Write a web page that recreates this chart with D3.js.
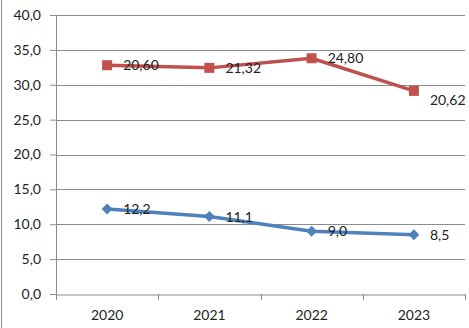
<!DOCTYPE html>
<html><head><meta charset="utf-8">
<script src="https://cdn.jsdelivr.net/npm/d3@7/dist/d3.min.js"></script>
<style>body{margin:0;background:#fff}svg{display:block}text{font-family:Lato,"Open Sans",sans-serif}</style>
</head><body>
<script>
const categories = ["2020","2021","2022","2023"];
const blueValues = [12.2, 11.1, 9.0, 8.5];
const redValues = [20.60, 21.32, 24.80, 20.62];
const blueLabels = ["12,2","11,1","9,0","8,5"];
const redLabels = ["20,60","21,32","24,80","20,62"];
const yTicks = [0,5,10,15,20,25,30,35,40];

const W=469,H=328;
const svg=d3.select("body").append("svg").attr("width",W).attr("height",H);
const x=d3.scaleBand().domain(categories).range([56,465]);
const y=d3.scaleLinear().domain([0,40]).range([294,15]);

// stacked values
const blueTop = blueValues;
const redTop = redValues.map((v,i)=>v+blueValues[i]);

svg.append("line").attr("x1",1.5).attr("x2",1.5).attr("y1",0).attr("y2",H).attr("stroke","#8c8c8c").attr("stroke-width",1);

const yAxis=d3.axisLeft(y).tickValues(yTicks).tickSize(6).tickFormat(d=>d.toFixed(1).replace(".",","));
const gy=svg.append("g").attr("transform","translate(56,0)").call(yAxis);
gy.select(".domain").attr("stroke","#8c8c8c");
gy.selectAll(".tick line").attr("stroke","#8c8c8c");
gy.selectAll(".tick text").attr("x",-15).attr("font-size",14).attr("fill","#222");
svg.append("g").selectAll("line").data(yTicks.filter(d=>d>0)).join("line")
  .attr("x1",56).attr("x2",465).attr("y1",d=>Math.round(y(d))+0.5).attr("y2",d=>Math.round(y(d))+0.5)
  .attr("stroke","#8c8c8c").attr("stroke-width",1);

const xAxis=d3.axisBottom(x).tickSize(0);
const gx=svg.append("g").attr("transform","translate(0,294.5)").call(xAxis);
gx.select(".domain").attr("stroke","#8c8c8c");
gx.selectAll(".tick text").attr("dy",0).attr("y",25).attr("font-size",14).attr("fill","#222");
svg.append("g").selectAll("line").data(categories.map(c=>x(c)).concat([x.range()[1]])).join("line")
  .attr("x1",d=>Math.round(d)+0.5).attr("x2",d=>Math.round(d)+0.5).attr("y1",294).attr("y2",300).attr("stroke","#8c8c8c");

const cx=c=>x(c)+x.bandwidth()/2;
const line=d3.line().x((d,i)=>cx(categories[i])).y(d=>y(d));

function series(vals,labels,color,isSquare,labelDy){
  svg.append("path").datum(vals).attr("d",line).attr("fill","none").attr("stroke",color).attr("stroke-width",3.5).attr("stroke-linejoin","round");
  svg.append("g").selectAll("path").data(vals).join("path")
    .attr("transform",(d,i)=>`translate(${cx(categories[i])},${y(d)})`+(isSquare?"":" rotate(45)"))
    .attr("d",d3.symbol().type(d3.symbolSquare).size(isSquare?100:60)())
    .attr("fill",color);
  svg.append("g").selectAll("text").data(vals).join("text")
    .attr("x",(d,i)=>cx(categories[i])+16).attr("y",(d,i)=>y(d)+5+labelDy(i))
    .attr("font-size",14).attr("fill","#222").text((d,i)=>labels[i]);
}
series(blueTop,blueLabels,"#4F81BD",false,i=>0);
series(redTop,redLabels,"#C0504D",true,i=>i===3?9:0);
</script>
</body></html>
